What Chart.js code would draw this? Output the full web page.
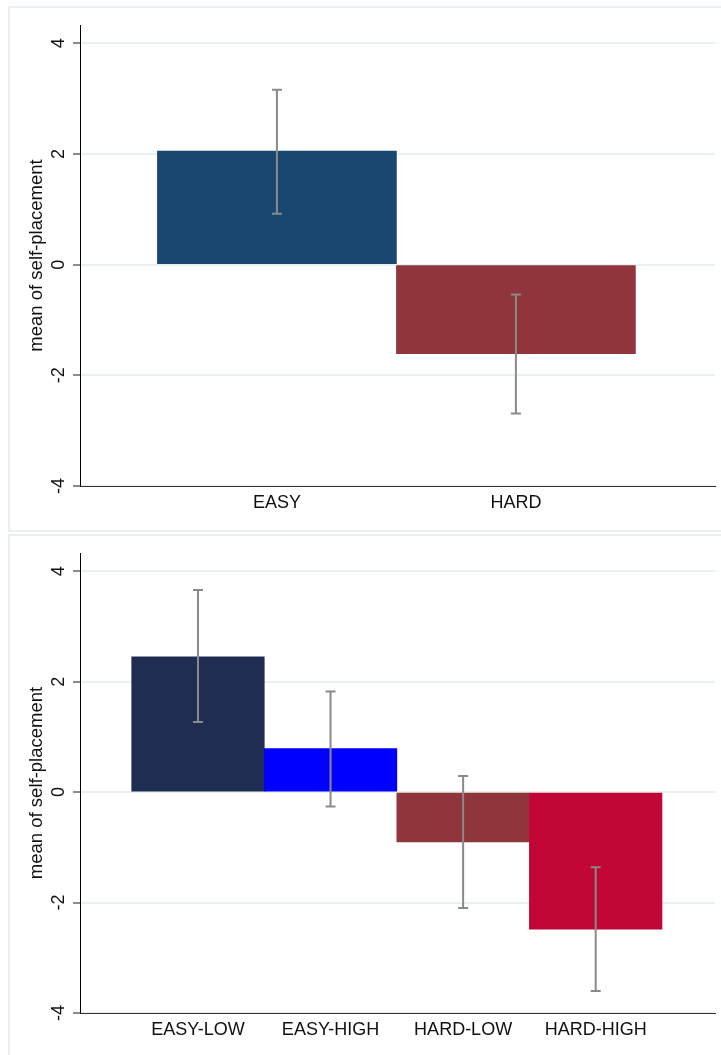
<!DOCTYPE html>
<html>
<head>
<meta charset="utf-8">
<script src="https://cdn.jsdelivr.net/npm/chart.js@4"></script>
<style>
  body { margin: 0; background: #fff; width: 721px; height: 1055px; overflow: hidden; position: relative; }
  .box { position: absolute; border: 2px solid #e9eff2; box-sizing: border-box; }
  canvas { position: absolute; left: 0; }
</style>
</head>
<body>
<div class="box" style="left:8px; top:6px; width:730px; height:526px;"></div>
<div class="box" style="left:8px; top:534px; width:730px; height:540px;"></div>
<canvas id="top" width="721" height="531" style="top:0"></canvas>
<canvas id="bottom" width="721" height="521" style="top:534px"></canvas>
<script>
// top panel: by difficulty
const topCategories = ['EASY', 'HARD'];
const topMeans = [2.05, -1.61];
const topLow = [0.92, -2.69];
const topHigh = [3.16, -0.54];

// bottom panel: by difficulty and level
const bottomCategories = ['EASY-LOW', 'EASY-HIGH', 'HARD-LOW', 'HARD-HIGH'];
const bottomMeans = [2.45, 0.79, -0.9, -2.48];
const bottomLow = [1.27, -0.26, -2.1, -3.6];
const bottomHigh = [3.66, 1.82, 0.29, -1.36];

const yTicks = [-4, -2, 0, 2, 4];

const topColors = ['#1a476f', '#90353b'];
const bottomColors = ['#1f2d52', '#0000ff', '#90353b', '#c10534'];

Chart.defaults.font.family = '"Liberation Sans", Arial, sans-serif';

/**
 * Draws the confidence interval whiskers over the bars.
 */
const errorBars = {
    id: 'errorBars',
    afterDatasetsDraw(chart, args, opts) {
        const ctx = chart.ctx;
        const x = chart.scales.x, y = chart.scales.y;
        ctx.save();
        ctx.strokeStyle = '#8a8a8a';
        ctx.lineWidth = 2;
        opts.low.forEach((lo, i) => {
            let px = x.getPixelForValue(i + 1);
            let yl = y.getPixelForValue(lo);
            let yh = y.getPixelForValue(opts.high[i]);
            ctx.beginPath();
            ctx.moveTo(px, yl); ctx.lineTo(px, yh);
            ctx.moveTo(px - 5, yl); ctx.lineTo(px + 5, yl);
            ctx.moveTo(px - 5, yh); ctx.lineTo(px + 5, yh);
            ctx.stroke();
        });
        ctx.restore();
    }
};

/**
 * Builds one Stata-like bar panel.
 */
function makePanel(id, cats, means, low, high, colors, xMin, xMax, padTop, xHeight) {
    return new Chart(document.getElementById(id), {
        type: 'bar',
        data: {
            datasets: [{
                data: means.map((v, i) => ({ x: i + 1, y: v })),
                backgroundColor: colors,
                borderWidth: 0,
                barPercentage: 1,
                categoryPercentage: 1
            }]
        },
        options: {
            responsive: false,
            animation: false,
            events: [],
            layout: { padding: { top: padTop, right: 6, bottom: 0, left: 0 } },
            plugins: {
                legend: { display: false },
                tooltip: { enabled: false },
                errorBars: { low: low, high: high }
            },
            scales: {
                x: {
                    type: 'linear',
                    min: xMin,
                    max: xMax,
                    offset: false,
                    grid: { display: false, offset: false, drawTicks: false },
                    border: { display: true, color: '#333', width: 1 },
                    afterBuildTicks: (s) => { s.ticks = cats.map((c, i) => ({ value: i + 1 })); },
                    afterFit: (s) => { s.height = xHeight; },
                    ticks: {
                        color: '#111',
                        font: { size: 18 },
                        padding: 6,
                        maxRotation: 0,
                        autoSkip: false,
                        callback: (v) => cats[v - 1]
                    }
                },
                y: {
                    min: -4,
                    max: 4.33,
                    afterBuildTicks: (s) => { s.ticks = yTicks.map(v => ({ value: v })); },
                    afterFit: (s) => { s.width = 80; },
                    grid: { color: '#e8f0f2', lineWidth: 2, tickColor: '#666', tickLength: 7, tickWidth: 1.5 },
                    border: { display: true, color: '#000', width: 1 },
                    ticks: {
                        color: '#111',
                        font: { size: 18 },
                        minRotation: 90,
                        maxRotation: 90,
                        crossAlign: 'center',
                        padding: 6
                    },
                    title: {
                        display: true,
                        text: 'mean of self-placement',
                        color: '#111',
                        font: { size: 18.5 },
                        padding: { top: 26, bottom: 0 }
                    }
                }
            }
        },
        plugins: [errorBars]
    });
}

makePanel('top', topCategories, topMeans, topLow, topHigh, topColors, 0.176, 2.833, 25, 45);
makePanel('bottom', bottomCategories, bottomMeans, bottomLow, bottomHigh, bottomColors, 0.11, 4.9, 19, 42);
</script>
</body>
</html>
